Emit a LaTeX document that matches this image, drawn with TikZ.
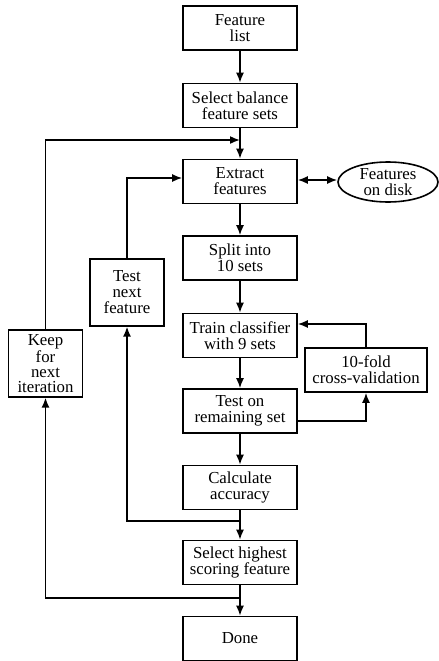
\documentclass[tikz,border=0pt]{standalone}
\usepackage{fontspec}
\setmainfont{Liberation Serif}
\usetikzlibrary{arrows.meta,shapes.geometric,calc}
\begin{document}
\begin{tikzpicture}[x=0.75pt,y=-0.75pt,
  box/.style={draw,line width=1.2pt,align=center,inner sep=0pt,minimum width=85.5pt,minimum height=33pt,font=\fontsize{12.6}{12}\selectfont},
  sidebox/.style={box,minimum width=55.5pt,minimum height=50pt},
  ell/.style={draw,ellipse,line width=1.2pt,align=center,inner sep=0pt,minimum width=75pt,minimum height=30pt,font=\fontsize{12.6}{11.5}\selectfont},
  conn/.style={line width=1.2pt},
  arr/.style={conn,-{Latex[length=7.5pt,width=6pt]}},
  darr/.style={conn,{Latex[length=7.5pt,width=6pt]}-{Latex[length=7.5pt,width=6pt]}}
]
\useasboundingbox (0,0) rectangle (439,661);
\node[box] (fl) at (240,28) {Feature\\list};
\node[box] (sb) at (240,105.5) {Select balance\\feature sets};
\node[box] (ex) at (240,181.5) {Extract\\features};
\node[box] (sp) at (240,258) {Split into\\10 sets};
\node[box] (tr) at (240,335.5) {Train classifier\\with 9 sets};
\node[box] (to) at (240,411) {Test on\\remaining set};
\node[box] (ca) at (240,487.5) {Calculate\\accuracy};
\node[box] (sh) at (240,562.5) {Select highest\\scoring feature};
\node[box] (dn) at (240,638.5) {Done};
\node[box,minimum width=91.5pt] (tf) at (366,370) {10-fold\\cross-validation};
\node[ell] (fd) at (388,182) {Features\\on disk};
\node[sidebox] (tn) at (127,292.5) {Test\\next\\feature};
\node[sidebox,font=\fontsize{12.6}{11.2}\selectfont] (kp) at (45.5,363.5) {Keep\\for\\next\\iteration};

\coordinate (j0) at (240,140);
\coordinate (j1) at (240,521);
\coordinate (j2) at (240,598);

\draw[arr] (fl) -- (sb);
\draw[arr] (sb) -- (ex);
\draw[arr] (kp.north) |- (j0);
\draw[arr] (tn.north) |- ($(ex.west)+(0,-3.5)$);
\draw[darr] ($(ex.east)+(0,-1.5)$) -- ($(fd.west)+(0,-2)$);
\draw[arr] (ex) -- (sp);
\draw[arr] (sp) -- (tr);
\draw[arr] (tr) -- (to);
\draw[arr] ($(to.east)+(0,10)$) -| (tf.south);
\draw[arr] (tf.north) |- ($(tr.east)+(0,-11.5)$);
\draw[arr] (to) -- (ca);
\draw[arr] (ca) -- (sh);
\draw[arr] (j1) -| (tn.south);
\draw[arr] (sh) -- (dn);
\draw[arr] (j2) -| (kp.south);
\end{tikzpicture}
\end{document}
